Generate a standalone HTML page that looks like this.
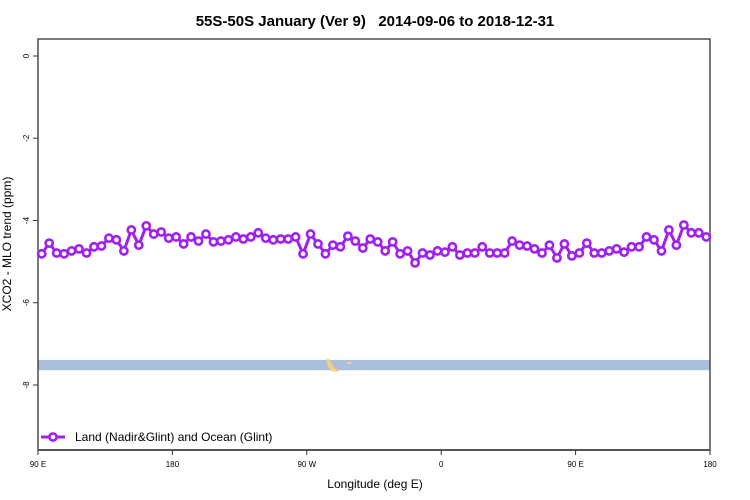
<!DOCTYPE html>
<html><head><meta charset="utf-8"><style>
body{margin:0;background:#fff}
svg{display:block;font-family:"Liberation Sans",sans-serif}
</style></head><body>
<svg id="chart" width="750" height="500">
<text x="375" y="26" text-anchor="middle" font-size="15" font-weight="bold" style="white-space:pre">55S-50S January (Ver 9)   2014-09-06 to 2018-12-31</text>
<g id="plot"></g>
<text x="375" y="488" text-anchor="middle" font-size="12">Longitude (deg E)</text>
<text transform="translate(11,244) rotate(-90)" text-anchor="middle" font-size="12">XCO2 - MLO trend (ppm)</text>
</svg>
<script>
const lonStart = 92.5, lonStep = 5;
const values = [-4.81,-4.55,-4.79,-4.81,-4.74,-4.69,-4.79,-4.64,-4.62,-4.43,-4.47,-4.74,-4.23,-4.60,-4.13,-4.33,-4.28,-4.43,-4.40,-4.57,-4.40,-4.50,-4.33,-4.52,-4.50,-4.47,-4.40,-4.45,-4.40,-4.30,-4.43,-4.47,-4.45,-4.45,-4.40,-4.81,-4.33,-4.57,-4.81,-4.60,-4.64,-4.38,-4.50,-4.67,-4.45,-4.52,-4.74,
-4.52,-4.81,-4.74,-5.03,-4.79,-4.84,-4.74,-4.77,-4.64,-4.84,-4.79,-4.79,-4.64,-4.79,-4.79,-4.79,-4.50,-4.60,-4.62,-4.69,-4.79,-4.60,-4.91,-4.57,-4.86,-4.79,-4.55,-4.79,-4.79,-4.74,-4.69,-4.77,-4.64,-4.64,-4.40,-4.47,-4.74,-4.23,-4.60,-4.11,-4.30,-4.30,-4.40];
const xTickVals = [90,180,270,360,450,540];
const xTickLabels = ["90 E","180","90 W","0","90 E","180"];
const yTickVals = [0,-2,-4,-6,-8];
const yTickLabels = ["0","-2","-4","-6","-8"];
const bandLow = -7.64, bandHigh = -7.39;

const L=38,R=710,T=39,B=450;
const X=v=>L+(v-90)/450*(R-L);
const Y=v=>56-v*41.125;
const NS="http://www.w3.org/2000/svg";
const g=document.getElementById('plot');
function mk(t,a){const e=document.createElementNS(NS,t);for(const k in a)e.setAttribute(k,a[k]);g.appendChild(e);return e;}

let band=mk('rect',{x:L,y:Y(bandHigh),width:R-L,height:Y(bandLow)-Y(bandHigh),fill:'#a9bfdc'});


let blob=mk('path',{d:`M${X(283)} 359 l3 0 l3 6 l3 4 l4 1 l-2 2 l-6 -1 l-4 -6 z M${X(297)} 362 l4 0 l0 2 l-4 0 z`,fill:'#f7d27a'});



let frame=mk('rect',{x:L,y:T,width:R-L,height:B-T,fill:'none',stroke:'#333','stroke-width':1.3});


let xb=mk('line',{x1:L,x2:R,y1:B,y2:B,stroke:'#555','stroke-width':2});



xTickVals.forEach((v,i)=>{
  let t=mk('line',{x1:X(v),x2:X(v),y1:B,y2:B+5,stroke:'#333'});
  
  
  let tx=mk('text',{x:X(v),y:B+17,'font-size':8,'text-anchor':'middle'});
  tx.textContent=xTickLabels[i];
  
  
});
yTickVals.forEach((v,i)=>{
  let t=mk('line',{x1:L-5,x2:L,y1:Y(v),y2:Y(v),stroke:'#333'});
  
  
  let tx=mk('text',{transform:`translate(29,${Y(v)}) rotate(-90)`,'font-size':8,'text-anchor':'middle'});
  tx.textContent=yTickLabels[i];
  
  
});

const pts=values.map((v,i)=>[X(lonStart+i*lonStep),Y(v)]);
let line=mk('polyline',{points:pts.map(p=>p.join(',')).join(' '),fill:'none',stroke:'#a020f0','stroke-width':3});


pts.forEach(p=>{
  let c=mk('circle',{cx:p[0],cy:p[1],r:3.6,fill:'#fff',stroke:'#a020f0','stroke-width':2.6});
  
  
});

let lg=mk('line',{x1:41,x2:65,y1:437,y2:437,stroke:'#a020f0','stroke-width':3});


let lc=mk('circle',{cx:53,cy:437,r:3.6,fill:'#fff',stroke:'#a020f0','stroke-width':2.6});


let lt=mk('text',{x:75,y:441,'font-size':12});
lt.textContent='Land (Nadir&Glint) and Ocean (Glint)';


</script>
</body></html>
